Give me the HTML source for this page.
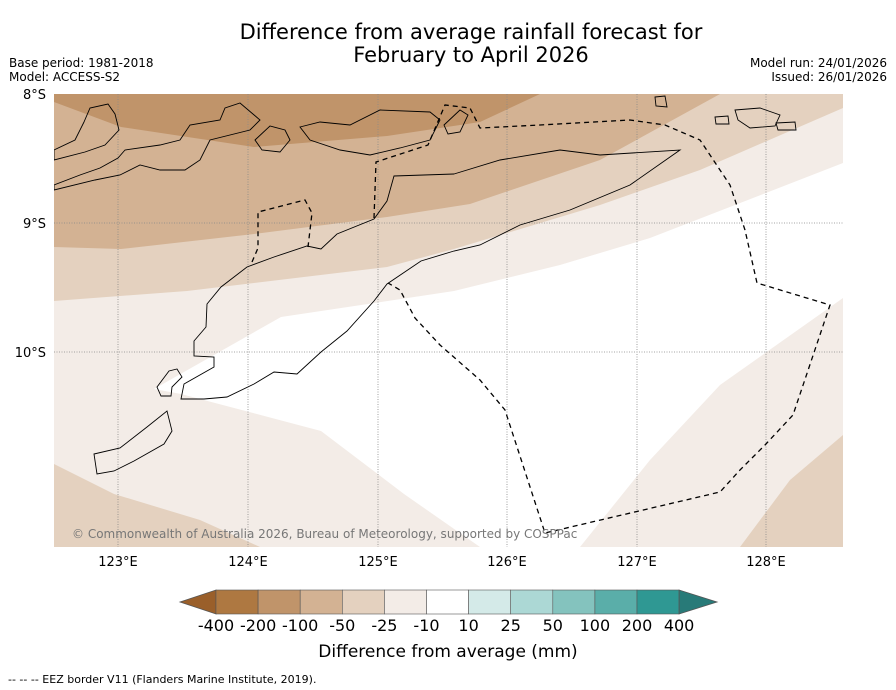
<!DOCTYPE html>
<html><head><meta charset="utf-8"><style>
body{margin:0;background:#fff;}
svg{display:block;font-family:"DejaVu Sans","Liberation Sans",sans-serif;}
</style></head><body>
<svg width="896" height="690" viewBox="0 0 896 690">
<text x="471" y="39" font-size="21" text-anchor="middle">Difference from average rainfall forecast for</text>
<text x="471" y="62" font-size="21" text-anchor="middle">February to April 2026</text>
<text x="9" y="67" font-size="12">Base period: 1981-2018</text>
<text x="9" y="81" font-size="12">Model: ACCESS-S2</text>
<text x="887" y="67" font-size="12" text-anchor="end">Model run: 24/01/2026</text>
<text x="887" y="81" font-size="12" text-anchor="end">Issued: 26/01/2026</text>
<defs><clipPath id="mc"><rect x="54" y="94" width="789" height="453"/></clipPath></defs>
<g clip-path="url(#mc)">
<rect x="54" y="94" width="789" height="453" fill="#f3ece7"/>
<polygon fill="#e4d1bf" points="54,94 843,94 843,108 700,170 600,205 454,249 387,267 187,291 54,301"/>
<polygon fill="#d3b293" points="54,94 720,94 600,160 470,204 387,217 254,234 121,249 54,247"/>
<polygon fill="#c0946a" points="54,94 540,94 480,122 387,136 254,147 121,127 54,102"/>
<polygon fill="#ffffff" points="154,389 281,317 454,291 560,265 650,238 843,163 843,298 720,385 650,460 580,547 480,547 404,494 321,431 181,394"/>
<polygon fill="#e4d1bf" points="54,464 114,494 200,520 260,547 54,547"/>
<polygon fill="#e4d1bf" points="843,435 790,480 740,547 843,547"/>
<g stroke="#888" stroke-width="0.8" stroke-dasharray="1,1.5">
<line x1="118" y1="94" x2="118" y2="547"/><line x1="248" y1="94" x2="248" y2="547"/><line x1="378" y1="94" x2="378" y2="547"/><line x1="507" y1="94" x2="507" y2="547"/><line x1="637" y1="94" x2="637" y2="547"/><line x1="766" y1="94" x2="766" y2="547"/>
<line x1="54" y1="223" x2="843" y2="223"/><line x1="54" y1="352" x2="843" y2="352"/>
</g>
<g fill="none" stroke="#000" stroke-width="0.9">
<path d="M454,174 L500,160 560,150 600,155 680,150 L630,185 570,210 520,225 480,245 454,251 421,261 387,284 374,301 347,331 321,352 297,374 274,372 254,384 227,397 204,399 181,399 184,384 214,367 214,357 194,356 194,341 206,327 207,304 221,287 247,267 274,257 307,246 321,249 337,234 374,219 387,201 394,176 Z"/>
<path d="M157,387 169,371 177,369 182,377 172,387 171,396 161,396 Z"/>
<path d="M94,454 120,448 147,427 167,411 172,431 164,444 134,461 114,471 97,474 Z"/>
<path d="M54,185 80,175 100,168 118,158 125,150 160,145 180,140 190,125 220,120 225,108 240,103 260,120 250,130 210,140 200,160 185,170 160,170 140,165 120,175 95,180 54,190 Z"/>
<path d="M84,122 90,108 108,104 115,114 119,130 105,145 85,152 54,160 54,150 75,140 Z"/>
<path d="M300,127 320,122 350,125 380,110 430,112 440,120 430,140 400,148 370,155 340,150 310,140 Z"/>
<path d="M255,140 270,126 285,130 290,140 280,152 262,150 Z"/>
<path d="M735,110 760,108 780,115 775,126 750,128 738,120 Z"/>
<path d="M655,97 665,96 667,107 656,106 Z"/>
<path d="M776,123 795,122 796,130 778,130 Z"/>
<path d="M715,117 728,116 729,124 716,124 Z"/>
<path d="M444,125 460,110 468,115 460,132 448,134 Z"/>
</g>
<g fill="none" stroke="#000" stroke-width="1.3" stroke-dasharray="5,4">
<path d="M252,262 258,248 258,212 305,200 312,213 308,247"/>
<path d="M374,218 376,162 428,145 445,105 470,108 480,128 540,125 630,120 665,125 700,140 730,185 745,230 757,283 830,305 793,415 765,445 740,470 720,492 545,533 505,410 480,380 440,345 415,318 400,290 388,283"/>
</g>
<text x="72" y="538" font-size="12" fill="#777">© Commonwealth of Australia 2026, Bureau of Meteorology, supported by COSPPac</text>
</g>
<g font-size="13">
<text x="46" y="99" text-anchor="end">8°S</text>
<text x="46" y="228" text-anchor="end">9°S</text>
<text x="46" y="357" text-anchor="end">10°S</text>
<text x="118" y="566" text-anchor="middle">123°E</text>
<text x="248" y="566" text-anchor="middle">124°E</text>
<text x="378" y="566" text-anchor="middle">125°E</text>
<text x="507" y="566" text-anchor="middle">126°E</text>
<text x="637" y="566" text-anchor="middle">127°E</text>
<text x="766" y="566" text-anchor="middle">128°E</text>
</g>
<g id="cbar"></g>
<text x="448" y="657" font-size="17" text-anchor="middle">Difference from average (mm)</text>
<text x="8" y="683" font-size="11">--  --  -- EEZ border V11 (Flanders Marine Institute, 2019).</text>
</svg>
<script>
const cbLabels=["-400","-200","-100","-50","-25","-10","10","25","50","100","200","400"];
const cbColors=["#ae7841","#c0946a","#d3b293","#e4d1bf","#f3ece7","#ffffff","#d4eae8","#acd8d5","#84c3be","#5aaea9","#2f9893"];
const ns="http://www.w3.org/2000/svg";
const g=document.getElementById("cbar");
const x0=216,w=42.1,y0=590,h=24;
function mk(t,a){const e=document.createElementNS(ns,t);for(const k in a)e.setAttribute(k,a[k]);g.appendChild(e);return e;}
let p=mk("polygon",{points:`${x0},${y0} ${x0},${y0+h} 180,${y0+h/2}`,fill:"#9a5f2a",stroke:"#555","stroke-width":"0.8"});


cbColors.forEach((c,i)=>{const r=mk("rect",{x:x0+i*w,y:y0,width:w,height:h,fill:c,stroke:"#555","stroke-width":"0.6"});

});
const xe=x0+cbColors.length*w;
p=mk("polygon",{points:`${xe},${y0} ${xe},${y0+h} 717,${y0+h/2}`,fill:"#287a78",stroke:"#555","stroke-width":"0.8"});


cbLabels.forEach((l,i)=>{const t=mk("text",{x:x0+i*w,y:631,"font-size":"16","text-anchor":"middle"});t.textContent=l;

});
</script>
</body></html>
